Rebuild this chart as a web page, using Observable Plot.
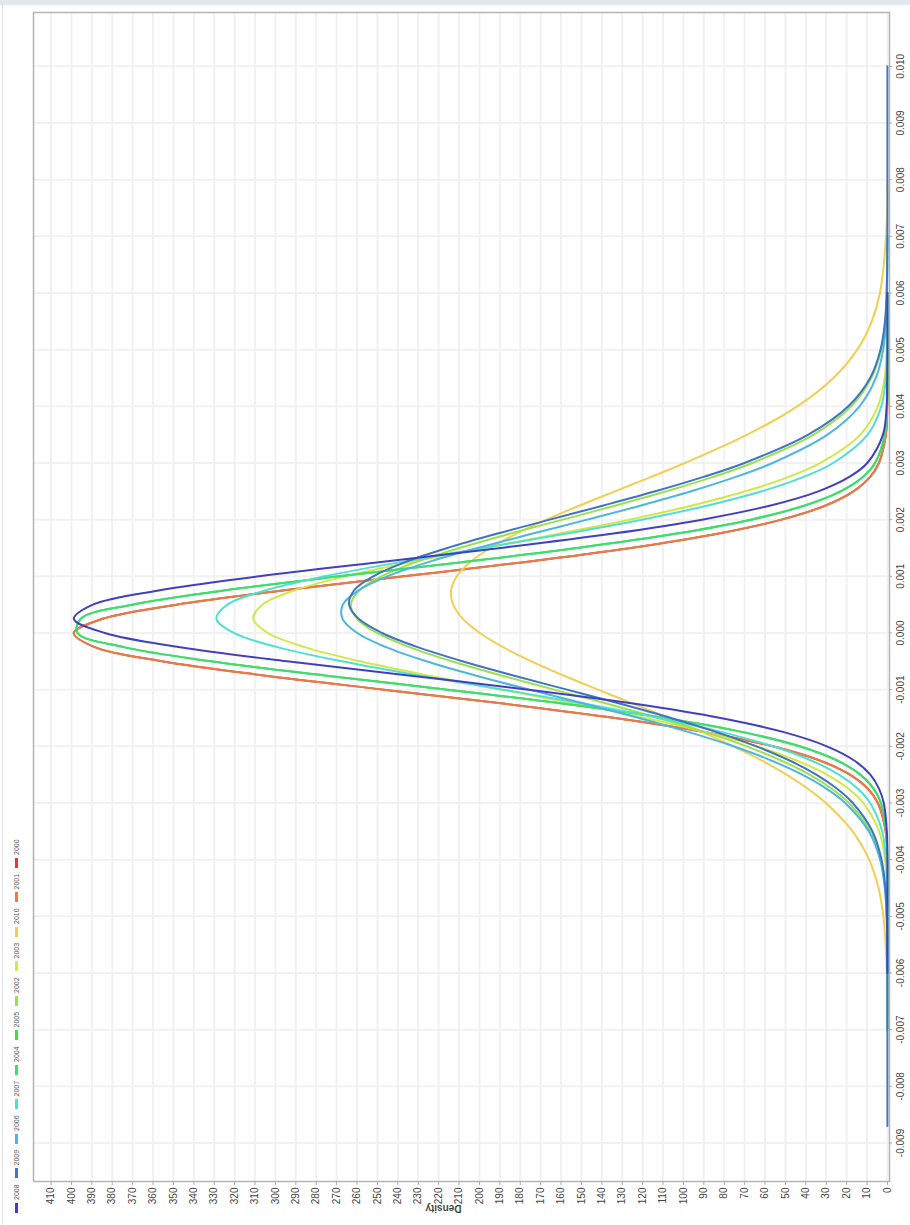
<!DOCTYPE html>
<html>
<head>
<meta charset="utf-8">
<script src="https://cdn.jsdelivr.net/npm/d3@7"></script>
<script src="https://cdn.jsdelivr.net/npm/@observablehq/plot@0.6"></script>
<style>
  html, body { margin: 0; padding: 0; background: #fff; }
  body { width: 910px; height: 1225px; position: relative; overflow: hidden; font-family: "Liberation Sans", Arial, sans-serif; }
  #band { position: absolute; left: 0; top: 0; width: 910px; height: 5px; background: #e3e7ed; z-index: 2; }
  #edge { position: absolute; left: 2px; top: 5px; width: 1px; height: 1220px; background: #e2e2e2; z-index: 2; }
  /* the chart is laid out landscape and turned a quarter turn */
  #land { position: absolute; left: 0; top: 0; width: 1225px; height: 910px; z-index: 1;
          transform-origin: 0 0; transform: translate(0, 1225px) rotate(-90deg); }
  #legend { position: absolute; left: 12px; top: 10px; height: 12px; display: flex; align-items: center; }
  .item { width: 34.5px; display: flex; align-items: center; font-size: 7px; color: #555; }
  .sw { width: 10px; height: 3px; margin-right: 3px; }
  #chart { position: absolute; left: 0; top: 26px; }
</style>
</head>
<body>
<div id="band"></div>
<div id="edge"></div>
<div id="land">
  <div id="legend"></div>
  <div id="chart"></div>
</div>
<script>
// Daily return grid (shared by every year's density curve)
const returns = [-0.0087, -0.007, -0.006, -0.0055, -0.005, -0.0045, -0.004, -0.0035, -0.003, -0.00275,
  -0.0025, -0.00225, -0.002, -0.00175, -0.0015, -0.00125, -0.001, -0.00075, -0.0005, -0.00025,
  0, 0.00025, 0.0005, 0.00075, 0.001, 0.00125, 0.0015, 0.00175, 0.002, 0.00225,
  0.0025, 0.00275, 0.003, 0.0035, 0.004, 0.0045, 0.005, 0.0055, 0.006, 0.007, 0.008, 0.010];

// Density per year at each return (null = outside that year's range)
const d2008 = [null, null, 0, 0, 0, 0, 0, 0.3, 1.8, 4.1, 8.4, 16.3, 29.7, 50.8, 81.8, 123.8, 175.9, 234.7, 294.3, 346.7,
  383.7, 398.8, 389.5, 357.3, 307.9, 249.3, 189.6, 135.4, 90.9, 57.3, 33.9, 18.9, 9.9, 2.2, 0.4, 0.1, 0, 0, 0, null, null, null];
const d2009 = [0, 0, 0, 0.1, 0.3, 1.0, 2.9, 7.4, 17.0, 24.7, 34.9, 48.0, 64.3, 83.7, 106.1, 130.9, 157.1, 183.4, 208.3, 230.3,
  247.7, 259.2, 263.9, 261.5, 252.0, 236.4, 215.7, 191.6, 165.5, 139.2, 113.8, 90.6, 70.1, 38.8, 19.2, 8.5, 3.4, 1.2, 0.4, 0, 0, 0];
const d2006 = [null, 0, 0, 0.1, 0.4, 1.3, 3.6, 9.2, 20.7, 29.8, 41.8, 57.0, 75.5, 97.3, 121.8, 148.3, 175.5, 202.0, 226.0, 245.8,
  259.9, 267.1, 267.0, 259.4, 245.1, 225.1, 200.9, 174.4, 147.2, 120.8, 96.3, 74.7, 56.3, 29.4, 13.7, 5.7, 2.1, 0.7, 0.2, 0, null, null];
const d2007 = [null, null, 0, 0, 0, 0.1, 0.7, 2.6, 8.5, 14.5, 23.8, 37.4, 56.2, 81.1, 112.1, 148.5, 188.5, 229.4, 267.5, 299.1,
  320.4, 328.9, 323.6, 305.2, 275.9, 239.0, 198.4, 157.9, 120.4, 88.0, 61.6, 41.4, 26.6, 9.7, 3.0, 0.8, 0.2, 0, 0, null, null, null];
const d2004 = [null, null, 0, 0, 0, 0, 0.1, 0.6, 3.2, 6.7, 13.3, 24.7, 43.1, 70.8, 109.3, 158.4, 215.7, 275.9, 331.6, 374.3,
  397.0, 395.5, 370.2, 325.4, 268.8, 208.6, 152.0, 104.1, 66.9, 40.5, 23.0, 12.2, 6.1, 1.3, 0.2, 0, 0, 0, 0, null, null, null];
const d2005 = [null, null, 0, 0, 0, 0, 0.1, 0.6, 3.2, 6.7, 13.3, 24.7, 43.1, 70.8, 109.3, 158.4, 215.7, 275.9, 331.6, 374.3,
  397.0, 395.5, 370.2, 325.4, 268.8, 208.6, 152.0, 104.1, 66.9, 40.5, 23.0, 12.2, 6.1, 1.3, 0.2, 0, 0, 0, 0, null, null, null];
const d2002 = [null, 0, 0, 0.1, 0.4, 1.2, 3.4, 8.4, 18.9, 27.3, 38.2, 52.1, 69.1, 89.3, 112.2, 137.3, 163.4, 189.3, 213.5, 234.3,
  250.2, 260.0, 263.0, 258.9, 248.0, 231.2, 209.8, 185.3, 159.2, 133.2, 108.4, 85.8, 66.2, 36.2, 17.8, 7.9, 3.1, 1.1, 0.4, 0, null, null];
const d2003 = [null, null, 0, 0, 0.1, 0.3, 1.2, 4.1, 11.9, 19.1, 29.7, 44.5, 64.1, 88.9, 118.8, 152.7, 189.1, 225.3, 258.5, 285.6,
  303.7, 310.9, 306.5, 290.8, 265.7, 233.7, 197.9, 161.3, 126.6, 95.7, 69.6, 48.7, 32.9, 13.3, 4.7, 1.4, 0.4, 0.1, 0, null, null, null];
const d2010 = [null, 0, 0.3, 0.9, 2.0, 4.4, 9.0, 17.1, 30.2, 39.0, 49.5, 61.7, 75.5, 90.8, 107.3, 124.5, 141.9, 158.8, 174.5, 188.4,
  199.8, 208.1, 212.9, 213.9, 211.1, 204.6, 194.7, 182.0, 167.2, 150.8, 133.6, 116.2, 99.3, 68.7, 44.2, 26.5, 14.8, 7.7, 3.7, 0.7, 0, null];
const d2001 = [null, null, 0, 0, 0, 0, 0.1, 0.9, 4.7, 9.6, 18.4, 33.2, 56.2, 89.3, 133.5, 187.3, 246.9, 305.7, 355.6, 388.6,
  398.9, 384.7, 348.5, 296.6, 237.2, 178.2, 125.7, 83.3, 51.9, 30.3, 16.7, 8.6, 4.2, 0.8, 0.1, 0, 0, 0, 0, null, null, null];
const d2000 = [null, null, 0, 0, 0, 0, 0.1, 0.9, 4.7, 9.6, 18.4, 33.2, 56.2, 89.3, 133.5, 187.3, 246.9, 305.7, 355.6, 388.6,
  398.9, 384.7, 348.5, 296.6, 237.2, 178.2, 125.7, 83.3, 51.9, 30.3, 16.7, 8.6, 4.2, 0.8, 0.1, 0, 0, 0, 0, null, null, null];

// Legend order and colours
const years  = ["2008", "2009", "2006", "2007", "2004", "2005", "2002", "2003", "2010", "2001", "2000"];
const colors = ["#4040c0", "#3f74c4", "#4cb6e2", "#4fe0d2", "#3fdc72", "#45d84a", "#9ee04c", "#d2e848", "#f0cf52", "#e87c46", "#d84040"];

// Axis ticks
const returnTicks = [-0.009, -0.008, -0.007, -0.006, -0.005, -0.004, -0.003, -0.002, -0.001, 0,
  0.001, 0.002, 0.003, 0.004, 0.005, 0.006, 0.007, 0.008, 0.009, 0.010];
const densityTicks = [0, 10, 20, 30, 40, 50, 60, 70, 80, 90, 100, 110, 120, 130, 140, 150, 160, 170, 180, 190, 200,
  210, 220, 230, 240, 250, 260, 270, 280, 290, 300, 310, 320, 330, 340, 350, 360, 370, 380, 390, 400, 410];

const series = {"2008": d2008, "2009": d2009, "2006": d2006, "2007": d2007, "2004": d2004, "2005": d2005,
  "2002": d2002, "2003": d2003, "2010": d2010, "2001": d2001, "2000": d2000};

// Draw the last legend entry first so 2008 ends up on top
const rows = years.slice().reverse().flatMap(year =>
  returns.map((r, i) => ({year, r, density: series[year][i]})).filter(d => d.density != null));

const chart = Plot.plot({
  width: 1225,
  height: 884,
  marginLeft: 43,
  marginRight: 13,
  marginTop: 7,
  marginBottom: 21,
  style: {fontFamily: "Liberation Sans, Arial, sans-serif", fontSize: "10px", color: "#444", background: "#fff", overflow: "visible"},
  x: {domain: [-0.00968, 0.01095]},
  y: {domain: [-1, 418.6]},
  color: {type: "ordinal", domain: years, range: colors},
  marks: [
    Plot.gridX(returnTicks, {stroke: "#f1f1f1", strokeOpacity: 1, strokeWidth: 2}),
    Plot.gridY(densityTicks, {stroke: "#f1f1f1", strokeOpacity: 1, strokeWidth: 2}),
    Plot.line(rows, {x: "r", y: "density", z: "year", stroke: "year", strokeWidth: 2, curve: "catmull-rom"}),
    Plot.frame({stroke: "#b4b4b4", strokeWidth: 1.5}),
    Plot.axisX(returnTicks, {tickFormat: d => d.toFixed(3), tickSize: 3, tickPadding: 4, stroke: "#aaa", label: null}),
    Plot.axisY(densityTicks, {tickSize: 3, tickPadding: 3, stroke: "#aaa", label: null}),
    Plot.text(["Density"], {frameAnchor: "left", dx: -27, rotate: -90, fontWeight: "bold", fontSize: 10, fill: "#444"})
  ]
});
document.getElementById("chart").appendChild(chart);

// Line-swatch legend along the top edge
const legend = d3.select("#legend");
years.forEach((y, i) => {
  const item = legend.append("div").attr("class", "item");
  item.append("div").attr("class", "sw").style("background", colors[i]);
  item.append("span").text(y);
});
</script>
</body>
</html>
